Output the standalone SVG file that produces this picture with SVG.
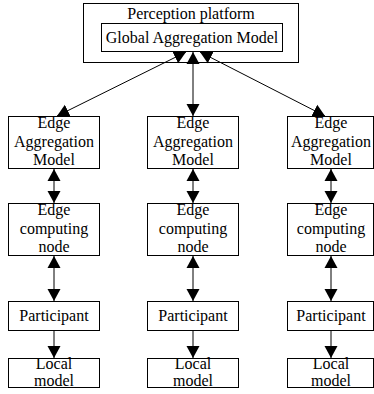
<svg xmlns="http://www.w3.org/2000/svg" width="374" height="394" viewBox="0 0 374 394">
<style>
rect.n{fill:#fff;stroke:#000;stroke-width:1}
text{font-family:"Liberation Serif","Times New Roman",serif;font-size:16px;fill:#000;text-anchor:middle}
.c line{stroke:#000;stroke-width:1}
</style>
<defs>
<marker id="ah" markerUnits="userSpaceOnUse" markerWidth="13" markerHeight="14" refX="12" refY="7" orient="auto-start-reverse" viewBox="0 0 13 14">
<path d="M0,0.5 L12,7 L0,13.5 z" fill="#000"/>
</marker>
</defs>
<rect width="374" height="394" fill="#fff"/>
<g id="platform">
<rect class="n" x="83.5" y="3.5" width="215" height="59"/>
<text x="191" y="19">Perception platform</text>
</g>
<g id="global">
<rect class="n" x="101.5" y="23.5" width="181" height="28"/>
<text x="192" y="43">Global Aggregation Model</text>
</g>
<g id="ea1"><rect class="n" x="8.5" y="116.5" width="91" height="52"/><text x="54" y="128">Edge</text><text x="54" y="147">Aggregation</text><text x="54" y="165">Model</text></g>
<g id="ea2"><rect class="n" x="147.5" y="116.5" width="91" height="52"/><text x="193" y="128">Edge</text><text x="193" y="147">Aggregation</text><text x="193" y="165">Model</text></g>
<g id="ea3"><rect class="n" x="287.5" y="116.5" width="86" height="52"/><text x="331" y="128">Edge</text><text x="331" y="147">Aggregation</text><text x="331" y="165">Model</text></g>
<g id="ec1"><rect class="n" x="8.5" y="203.5" width="91" height="52"/><text x="54" y="215">Edge</text><text x="54" y="234">computing</text><text x="54" y="252">node</text></g>
<g id="ec2"><rect class="n" x="147.5" y="203.5" width="91" height="52"/><text x="193" y="215">Edge</text><text x="193" y="234">computing</text><text x="193" y="252">node</text></g>
<g id="ec3"><rect class="n" x="287.5" y="203.5" width="86" height="52"/><text x="331" y="215">Edge</text><text x="331" y="234">computing</text><text x="331" y="252">node</text></g>
<g id="p1"><rect class="n" x="8.5" y="301.5" width="91" height="29"/><text x="54" y="321">Participant</text></g>
<g id="p2"><rect class="n" x="147.5" y="301.5" width="91" height="29"/><text x="193" y="321">Participant</text></g>
<g id="p3"><rect class="n" x="287.5" y="301.5" width="86" height="29"/><text x="331" y="321">Participant</text></g>
<g id="l1"><rect class="n" x="8.5" y="358.5" width="91" height="29"/><text x="54" y="369">Local</text><text x="54" y="386">model</text></g>
<g id="l2"><rect class="n" x="147.5" y="358.5" width="91" height="29"/><text x="193" y="369">Local</text><text x="193" y="386">model</text></g>
<g id="l3"><rect class="n" x="287.5" y="358.5" width="86" height="29"/><text x="331" y="369">Local</text><text x="331" y="386">model</text></g>
<g class="c" id="connectors">
<line x1="186" y1="52" x2="57" y2="116" marker-start="url(#ah)" marker-end="url(#ah)"/>
<line x1="193" y1="52" x2="193" y2="116" marker-start="url(#ah)" marker-end="url(#ah)"/>
<line x1="200" y1="52" x2="325" y2="116" marker-start="url(#ah)" marker-end="url(#ah)"/>
<line x1="54" y1="169" x2="54" y2="203" marker-start="url(#ah)" marker-end="url(#ah)"/>
<line x1="193" y1="169" x2="193" y2="203" marker-start="url(#ah)" marker-end="url(#ah)"/>
<line x1="331" y1="169" x2="331" y2="203" marker-start="url(#ah)" marker-end="url(#ah)"/>
<line x1="54" y1="256" x2="54" y2="301" marker-start="url(#ah)" marker-end="url(#ah)"/>
<line x1="193" y1="256" x2="193" y2="301" marker-start="url(#ah)" marker-end="url(#ah)"/>
<line x1="331" y1="256" x2="331" y2="301" marker-start="url(#ah)" marker-end="url(#ah)"/>
<line x1="54" y1="331" x2="54" y2="358" marker-end="url(#ah)"/>
<line x1="193" y1="331" x2="193" y2="358" marker-end="url(#ah)"/>
<line x1="331" y1="331" x2="331" y2="358" marker-end="url(#ah)"/>
</g>
</svg>
